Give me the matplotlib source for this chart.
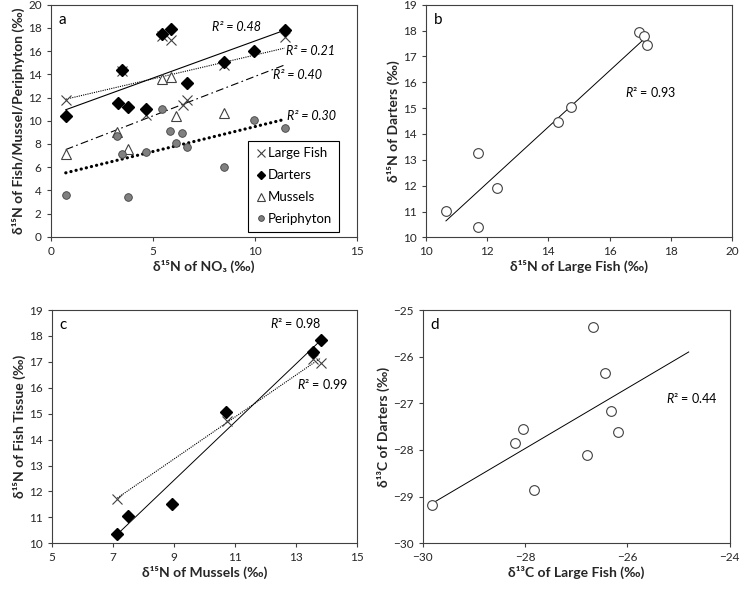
import numpy as np
import matplotlib
matplotlib.use("Agg")
import matplotlib.pyplot as plt

plt.rcParams.update({
    "font.family": ["Lato", "DejaVu Sans"],
    "mathtext.fontset": "custom",
    "mathtext.it": "Lato:italic",
    "mathtext.rm": "Lato",
    "axes.linewidth": 0.8,
    "axes.edgecolor": "#404040",
    "xtick.color": "#404040", "ytick.color": "#404040",
    "xtick.labelcolor": "#262626", "ytick.labelcolor": "#262626",
    "xtick.labelsize": 8.5, "ytick.labelsize": 8.5,
    "xtick.major.size": 3, "ytick.major.size": 3,
})

# ---- panel a: d15N of NO3 vs biota ----
lf_no3 = [0.74, 3.51, 4.66, 5.44, 5.88, 6.50, 6.70, 8.51, 11.47]
lf_a = [11.78, 14.30, 10.50, 17.30, 16.95, 11.35, 11.75, 14.80, 17.18]
da_no3 = [0.74, 3.32, 3.51, 3.77, 4.66, 5.44, 5.90, 6.70, 8.51, 9.98, 11.47]
da_a = [10.40, 11.55, 14.40, 11.15, 11.00, 17.50, 17.93, 13.25, 15.09, 16.03, 17.82]
mu_no3 = [0.74, 3.27, 3.77, 5.44, 5.90, 6.13, 8.51]
mu_a = [7.13, 9.00, 7.53, 13.56, 13.74, 10.40, 10.69]
pe_no3 = [0.74, 3.27, 3.48, 3.77, 4.66, 5.44, 5.85, 6.13, 6.42, 6.70, 8.51, 9.98, 11.47]
pe_a = [3.59, 8.68, 7.13, 3.42, 7.27, 10.98, 9.11, 8.05, 8.94, 7.73, 5.98, 10.06, 9.40]
r2_a = ["R² = 0.48", "R² = 0.21", "R² = 0.40", "R² = 0.30"]

# ---- panel b: large fish vs darters d15N ----
lf_b = [10.66, 11.72, 11.72, 12.32, 14.30, 14.74, 16.95, 17.13, 17.23]
da_b = [11.02, 13.27, 10.39, 11.92, 14.45, 15.05, 17.93, 17.80, 17.46]

# ---- panel c: mussels vs fish tissue d15N ----
mu_c_da = [7.15, 7.51, 8.95, 10.69, 13.56, 13.80]
da_c = [10.35, 11.07, 11.52, 15.05, 17.38, 17.84]
mu_c_lf = [7.15, 10.72, 13.56, 13.80]
lf_c = [11.71, 14.72, 17.13, 16.94]

# ---- panel d: d13C large fish vs darters ----
lf_d = [-29.82, -28.19, -28.04, -27.83, -26.78, -26.66, -26.43, -26.31, -26.18]
da_d = [-29.18, -27.84, -27.54, -28.86, -28.10, -25.36, -26.36, -27.16, -27.61]
d_line_x = [-29.82, -24.80]

K = "black"
DG = "#404040"


def trend(ax, x, y, xr, **kw):
    m, b = np.polyfit(x, y, 1)
    xs = np.array(xr, dtype=float)
    ax.plot(xs, m * xs + b, **kw)


def lab(ax, s):
    ax.text(0.025, 0.935, s, transform=ax.transAxes, fontsize=11, ha="left", va="center")


def d15(s):
    return "δ¹⁵N of " + s + " (‰)"


def d13(s):
    return "δ¹³C of " + s + " (‰)"


fig = plt.figure(figsize=(7.4, 5.89), dpi=100)
axa = fig.add_axes([0.0685, 0.598, 0.4135, 0.394])
axb = fig.add_axes([0.5753, 0.597, 0.4143, 0.395])
axc = fig.add_axes([0.0699, 0.0776, 0.413, 0.396])
axd = fig.add_axes([0.571, 0.0776, 0.415, 0.396])
LBL = dict(fontsize=10, fontweight="bold", color="#262626", labelpad=2)

# panel a
xr = [min(lf_no3), max(lf_no3)]
trend(axa, da_no3, da_a, xr, color=K, lw=0.8)
trend(axa, lf_no3, lf_a, xr, color=K, lw=0.8, ls=(0, (1, 1)))
trend(axa, mu_no3, mu_a, xr, color=K, lw=0.8, ls=(0, (7, 3, 1.5, 3)))
trend(axa, pe_no3, pe_a, xr, color=K, lw=2.3, ls=(0, (0.05, 1.6)), dash_capstyle="round")
axa.plot(lf_no3, lf_a, "x", ms=7.5, mew=0.8, color=DG, label="Large Fish")
axa.plot(da_no3, da_a, "D", ms=6, color=K, label="Darters")
axa.plot(mu_no3, mu_a, "^", ms=7.5, mfc="white", mec=DG, mew=0.8, label="Mussels")
axa.plot(pe_no3, pe_a, "o", ms=5.5, mfc="#808080", mec=DG, mew=0.6, label="Periphyton")
for s, (x, y) in zip(r2_a, [(7.9, 18.1), (11.55, 16.05), (10.9, 13.97), (11.6, 10.4)]):
    axa.text(x, y, s, fontsize=9, style="italic", ha="left", va="center")
leg = axa.legend(loc="lower right", bbox_to_anchor=(0.955, 0.005), fontsize=9.5,
                 fancybox=False, edgecolor=K, framealpha=1, handletextpad=0.1,
                 handlelength=0.9, borderpad=0.5, labelspacing=0.75, borderaxespad=0.3,
                 markerscale=0.75)
leg.get_frame().set_linewidth(0.8)
axa.set_xlim(0, 15); axa.set_ylim(0, 20)
axa.set_xticks([0, 5, 10, 15]); axa.set_yticks(range(0, 21, 2))
axa.set_xlabel("δ¹⁵N of NO₃ (‰)", **LBL)
axa.set_ylabel(d15("Fish/Mussel/Periphyton"), **LBL)
lab(axa, "a")

# panel b
trend(axb, lf_b, da_b, [min(lf_b), 17.12], color=K, lw=0.7)
axb.plot(lf_b, da_b, "o", ms=7, mfc="white", mec=DG, mew=0.8)
axb.text(16.5, 15.64, "$R$² = 0.93", fontsize=9, ha="left", va="center")
axb.set_xlim(10, 20); axb.set_ylim(10, 19)
axb.set_xticks(range(10, 21, 2)); axb.set_yticks(range(10, 20))
axb.set_xlabel(d15("Large Fish"), **LBL)
axb.set_ylabel(d15("Darters"), **LBL)
lab(axb, "b")

# panel c
trend(axc, mu_c_da, da_c, [min(mu_c_da), max(mu_c_da)], color=K, lw=0.7)
trend(axc, mu_c_lf, lf_c, [min(mu_c_lf), max(mu_c_lf)], color=K, lw=0.8, ls=(0, (1, 1)))
axc.plot(mu_c_lf, lf_c, "x", ms=7.5, mew=0.8, color=DG)
axc.plot(mu_c_da, da_c, "D", ms=6, color=K)
axc.text(12.14, 18.51, "$R$² = 0.98", fontsize=9, ha="left", va="center")
axc.text(13.02, 16.13, "$R$² = 0.99", fontsize=9, ha="left", va="center")
axc.set_xlim(5, 15); axc.set_ylim(10, 19)
axc.set_xticks(range(5, 16, 2)); axc.set_yticks(range(10, 20))
axc.set_xlabel(d15("Mussels"), **LBL)
axc.set_ylabel(d15("Fish Tissue"), **LBL)
lab(axc, "c")

# panel d
trend(axd, lf_d, da_d, d_line_x, color=K, lw=0.7)
axd.plot(lf_d, da_d, "o", ms=7, mfc="white", mec=DG, mew=0.8)
axd.text(-25.24, -26.89, "$R$² = 0.44", fontsize=9, ha="left", va="center")
axd.set_xlim(-30, -24); axd.set_ylim(-30, -25)
axd.set_xticks(range(-30, -23, 2)); axd.set_yticks(range(-30, -24))
axd.set_xlabel(d13("Large Fish"), **LBL)
axd.set_ylabel(d13("Darters"), **LBL)
lab(axd, "d")

fig.savefig("out.png", dpi=100)
